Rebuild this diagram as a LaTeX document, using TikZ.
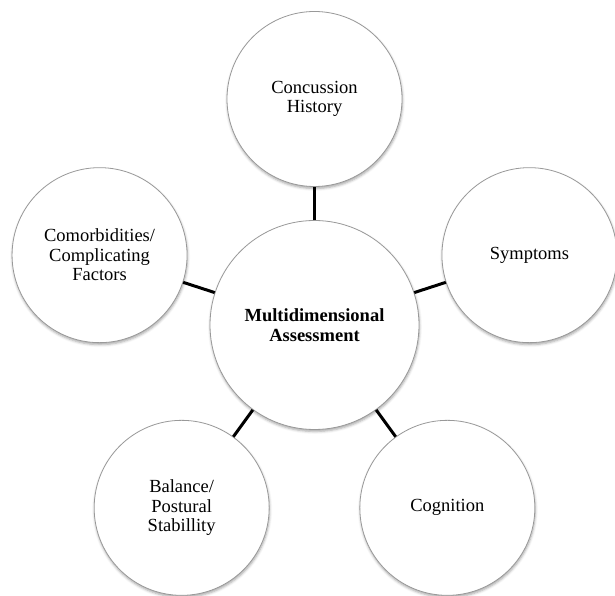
\documentclass[tikz,border=0pt]{standalone}
\usepackage{fontspec}
\setmainfont{Liberation Serif}
\usetikzlibrary{positioning, calc, shadows.blur}

\begin{document}
\begin{tikzpicture}[
	  x=1pt, y=1pt,
	  font=\fontsize{18.5}{19.5}\selectfont,
	  topic/.style={
	    circle,
	    draw=gray!80,
	    line width=0.8pt,
	    fill=white,
	    align=center,
	    minimum size=175pt,
	    inner sep=0pt,
	    blur shadow={shadow xshift=0.5pt, shadow yshift=-2pt, shadow blur radius=2.5pt, shadow opacity=35}
	  },
	  hub/.style={topic,minimum size=209pt,font=\fontsize{18.5}{19.5}\selectfont\bfseries},
	  link/.style={line width=3pt}
	]
	\useasboundingbox (-314.5,-271) rectangle (300.5,325);
	
	\node[hub] (assessment) at (0,0) {Multidimensional\\Assessment};
	
	\node[topic] (history) at (90:226) {Concussion\\History};
	\node[topic] (symptoms) at (18:226) {Symptoms};
	\node[topic] (cognition) at (-54:226) {Cognition};
	\node[topic] (balance) at (234:226) {Balance/\\Postural\\Stabillity};
	\node[topic] (comorbid) at (162:226) {Comorbidities/\\Complicating\\Factors};
	
	\draw[link] (assessment) -- (history);
	\draw[link] (assessment) -- (symptoms);
	\draw[link] (assessment) -- (cognition);
	\draw[link] (assessment) -- (balance);
	\draw[link] (assessment) -- (comorbid);
	
	\end{tikzpicture}
\end{document}
